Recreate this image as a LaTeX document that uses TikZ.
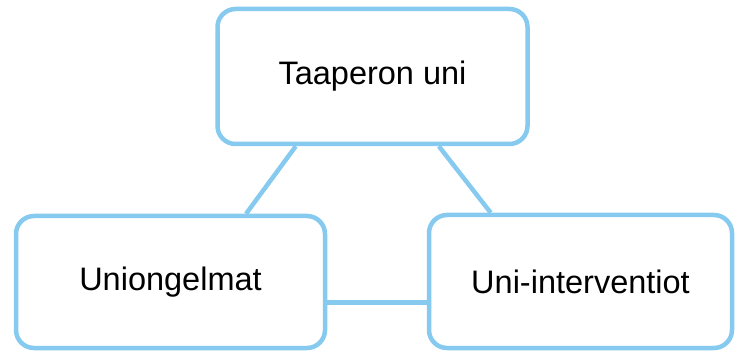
\documentclass[tikz,border=0pt]{standalone}
\usepackage{fontspec}
\setmainfont{Liberation Sans}
\usetikzlibrary{calc}
\definecolor{edgeblue}{RGB}{135,202,240}
\begin{document}
\begin{tikzpicture}[x=1pt,y=1pt,
  topicbox/.style={draw=edgeblue, line width=4.5pt, rounded corners=18pt,
    rectangle, inner sep=0pt, fill=white, text=black,
    font=\fontsize{32.5}{38}\selectfont},
  link/.style={draw=edgeblue, line width=4.5pt}]
  \useasboundingbox (0,0) rectangle (736,351);

  % the three topic boxes
  \node[topicbox, minimum width=310pt, minimum height=135pt] (top) at (372.5,274.5) {Taaperon uni};
  \node[topicbox, minimum width=309pt, minimum height=132pt] (left) at (170.5,69) {Uniongelmat};
  \node[topicbox, minimum width=303pt, minimum height=133pt] (right) at (580.5,69.5) {Uni-interventiot};

  % attachment points on the box borders
  \coordinate (tl) at ($(top.south west)!0.256!(top.south east)$);
  \coordinate (tr) at ($(top.south west)!0.711!(top.south east)$);
  \coordinate (lt) at ($(left.north west)!0.741!(left.north east)$);
  \coordinate (rt) at ($(right.north west)!0.208!(right.north east)$);
  \coordinate (lr) at ($(left.south east)!0.35!(left.north east)$);

  \draw[link] (tl) -- (lt);
  \draw[link] (tr) -- (rt);
  \draw[link] (lr) -- (lr -| right.west);
\end{tikzpicture}
\end{document}
